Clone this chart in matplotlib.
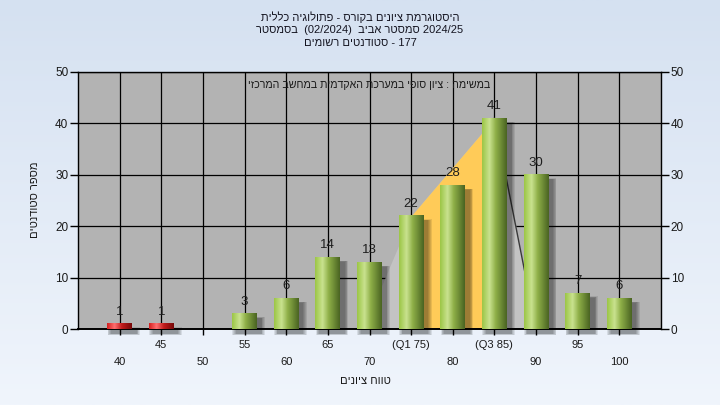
import numpy as np
import matplotlib
matplotlib.use("Agg")
import matplotlib.pyplot as plt
import matplotlib.transforms as mtransforms
from matplotlib.colors import LinearSegmentedColormap
from matplotlib.patches import Rectangle

grades = [40, 45, 50, 55, 60, 65, 70, 75, 80, 85, 90, 95, 100]
counts = [1, 1, 0, 3, 6, 14, 13, 22, 28, 41, 30, 7, 6]
tick_labels = ["40", "45", "50", "55", "60", "65", "70", "(Q1 75)",
               "80", "(Q3 85)", "90", "95", "100"]

# quartile band and the spread outline behind the bars
iqr_grades = [75, 85]
iqr_counts = [22, 41]
spread_grades = [69.25, 75, 85, 90]
spread_counts = [0, 22, 41, 0]

title_lines = [
    "היסטוגרמת ציונים בקורס - פתולוגיה כללית",
    "בסמסטר  (02/2024)  סמסטר אביב 2024/25",
    "סטודנטים רשומים - 177",
]
note = "במשימה : ציון סופי במערכת האקדמית במחשב המרכזי"
x_title = "טווח ציונים"
y_title = "מספר סטודנטים"

PASS_GRADE = 55
FONT = ["Liberation Sans", "DejaVu Sans"]
plt.rcParams["font.family"] = FONT


def visual(s):
    # matplotlib has no bidi: flip each run of Hebrew so it reads right to left
    def heb(c):
        return "\u0590" <= c <= "\u05ff"

    out = []
    i = 0
    while i < len(s):
        if heb(s[i]):
            j = i
            last = i
            while j < len(s) and (heb(s[j]) or s[j] in " -:"):
                if heb(s[j]):
                    last = j
                j += 1
            out.append(s[i:last + 1][::-1])
            i = last + 1
        else:
            out.append(s[i])
            i += 1
    return "".join(out)


green = LinearSegmentedColormap.from_list(
    "g", [(0, "#9cc646"), (0.3, "#c9e28f"), (0.55, "#8fb048"), (1, "#4a6422")])
red = LinearSegmentedColormap.from_list(
    "r", [(0, "#d42020"), (0.3, "#ff7070"), (0.6, "#c01c1c"), (1, "#760808")])

fig = plt.figure(figsize=(7.2, 4.05), dpi=100)

bg = fig.add_axes([0, 0, 1, 1], zorder=-5)
bg.imshow(np.linspace(0, 1, 256).reshape(-1, 1),
          cmap=LinearSegmentedColormap.from_list("bg", ["#d5e1f1", "#f0f5fc"]),
          aspect="auto", extent=[0, 1, 0, 1])
bg.axis("off")

ax = fig.add_axes([78 / 720, 1 - 329 / 405, 583 / 720, 257 / 405])
ax.set_facecolor("#b3b3b3")
ax.set_xlim(35, 105)
ax.set_ylim(0, 50)
ax.set_axisbelow(True)

ax.set_yticks(range(0, 51, 10))
ax.set_xticks(grades)
ax.set_xticklabels([])
ax.grid(True, color="black", linewidth=0.9)
ax.tick_params(axis="y", which="both", direction="out", length=6, width=1,
               labelsize=8.5, labelcolor="#1a1a1a", right=True, labelright=True, pad=1)
ax.tick_params(axis="x", direction="out", length=4, width=1)
for side in ["left", "right", "top"]:
    ax.spines[side].set_linewidth(1)
ax.spines["bottom"].set_linewidth(1.4)

# background areas
ax.fill_between(spread_grades, spread_counts, 0, color="#c3c3c3", linewidth=0, zorder=1)
ax.plot(spread_grades[2:], spread_counts[2:], color="#3a3a3a", linewidth=1, zorder=1.1)
ax.fill_between(iqr_grades, iqr_counts, 0, color="#ffcb58", linewidth=0, zorder=1.2)

width = 3.0
grad = np.linspace(0, 1, 64).reshape(1, -1)
for g, c in zip(grades, counts):
    if c == 0:
        continue
    x0 = g - width / 2
    # soft drop shadow, offset right and down
    for k in range(5):
        grow = 0.45 - k * 0.1
        ax.add_patch(Rectangle((x0 + 0.5 - grow, -0.9 - grow * 0.5), width + 2 * grow,
                               c + grow, facecolor="black", alpha=0.09,
                               linewidth=0, zorder=2, clip_on=False))
    cmap = red if g < PASS_GRADE else green
    ax.imshow(grad, cmap=cmap, aspect="auto", extent=[x0, x0 + width, 0, c],
              zorder=3, interpolation="bilinear")
    ax.text(g, c + 2.3, str(c), ha="center", va="center", fontsize=9.5,
            color="#1e1e1e", zorder=4)

ax.set_xlim(35, 105)
ax.set_ylim(0, 50)

# two staggered rows of category labels
trans = mtransforms.blended_transform_factory(ax.transData, ax.transAxes)
for i, (g, lab) in enumerate(zip(grades, tick_labels)):
    y = -33 / 257 if i % 2 == 0 else -16 / 257
    ax.text(g, y, lab, transform=trans, ha="center", va="center",
            fontsize=8, color="#1a1a1a")

ax.text(0.5, 1 - 13 / 257, visual(note), transform=ax.transAxes, ha="center",
        va="center", fontsize=7.7, color="#1a1a1a", zorder=5)

for k, line in enumerate(title_lines):
    fig.text(0.5, 1 - (17 + 13 * k) / 405, visual(line), ha="center", va="center",
             fontsize=8, color="#141420")

fig.text(365 / 720, 1 - 381 / 405, visual(x_title), ha="center", va="center",
         fontsize=8, color="#1a1a1a")
fig.text(35 / 720, 1 - 200 / 405, visual(y_title), ha="center", va="center",
         rotation=90, fontsize=8, color="#1a1a1a")

fig.savefig("out.png", dpi=100)
